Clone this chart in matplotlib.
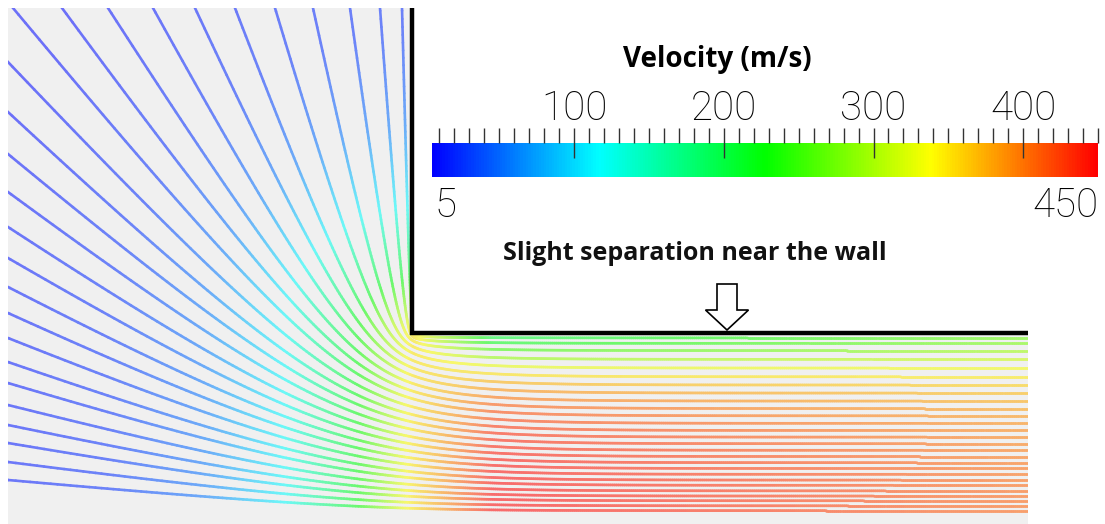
import numpy as np
import matplotlib.pyplot as plt
from matplotlib.collections import LineCollection
from matplotlib.colors import LinearSegmentedColormap, Normalize, to_rgb
from matplotlib.patches import Polygon, FancyArrow
from matplotlib.cm import ScalarMappable

# ---- geometry of the picture (pixels) ----
W, H = 1105, 524
corner_px = 414        # fluid side of the vertical wall
wall_py = 335          # fluid side of the channel wall
axis_py = 522          # symmetry line at the channel bottom
outlet_px = 1028       # end of the channel
domain_top_py = 8
domain_left_px = 8
h = axis_py - wall_py  # channel half height
bg = '#f0f0f0'

# ---- streamline seeds ----
top_entry_x = [13, 62, 108, 153, 195, 235, 275, 313, 350, 380, 402]
left_entry_y = [62, 112, 154, 192, 227, 258, 287, 313, 338, 362, 383,
                405, 425, 443, 462, 480]

# speed in the inlet region vs distance (px) to the channel mouth
res_dist = [0, 15, 60, 130, 210, 300, 450, 700]
res_speed = [350, 320, 215, 115, 55, 25, 10, 5]

# speed across the channel (0 = axis, 1 = wall), near mouth and at outlet
ch_frac = [0.0, 0.15, 0.3, 0.45, 0.6, 0.72, 0.82, 0.9, 0.97]
ch_speed_near = [450, 450, 445, 435, 415, 380, 330, 265, 205]
ch_speed_far = [410, 410, 405, 398, 385, 365, 335, 300, 270]

vmin, vmax = 5, 450
major_ticks = [100, 200, 300, 400]

cmap = LinearSegmentedColormap.from_list(
    'rainbow_bar', ['#0000ff', '#00ffff', '#00ff00', '#ffff00', '#ff0000'])
norm = Normalize(vmin, vmax)
line_alpha = 0.55


def to_xy(px, py):
    return px - corner_px, axis_py - py


# conformal map of the upper half plane onto the inlet + channel
def z_of(zeta):
    w = np.sqrt(zeta - 1)
    atan = -0.5j * np.log((1 + 1j * w) / (1 - 1j * w))
    return 1j * h + 1j * h / np.pi * (2 * w - 2 * atan)


def zeta_of(z0):
    w = np.pi * z0 / (2j * h)
    zeta = w * w + 1
    for _ in range(200):
        df = 1j * h / np.pi * np.sqrt(zeta - 1) / zeta
        zeta = zeta - (z_of(zeta) - z0) / df
        if zeta.imag <= 0:
            zeta = complex(zeta.real, 1e-9)
    return zeta


seeds = [to_xy(x, domain_top_py) for x in top_entry_x] + \
        [to_xy(domain_left_px, y) for y in left_entry_y]

fig = plt.figure(figsize=(W / 100, H / 100), dpi=100)
ax = fig.add_axes([0, 0, 1, 1])
ax.set_xlim(-corner_px, W - corner_px)
ax.set_ylim(axis_py - H, axis_py)
ax.axis('off')

x0, y0 = to_xy(domain_left_px, domain_top_py)
xo, _ = to_xy(outlet_px, 0)
domain = Polygon([(x0, axis_py - H), (xo, axis_py - H), (xo, h), (0, h),
                  (0, y0), (x0, y0)], closed=True, fc=bg, ec='none')
ax.add_patch(domain)

bg_rgb = np.array(to_rgb(bg))
segs, cols = [], []
for sx, sy in seeds:
    zeta0 = zeta_of(complex(sx, sy))
    theta, r0 = np.angle(zeta0), abs(zeta0)
    r = np.geomspace(r0 * 1.6, 1e-6, 500)
    z = z_of(r * np.exp(1j * theta))
    X, Y = z.real, z.imag
    d = np.hypot(np.minimum(X, 0), np.maximum(Y - h, 0))
    v_res = np.interp(d, res_dist, res_speed)
    frac = Y[-1] / h
    vn = np.interp(frac, ch_frac, ch_speed_near)
    vf = np.interp(frac, ch_frac, ch_speed_far)
    v_ch = vn + (vf - vn) * np.clip((X - 100) / 500, 0, 1)
    s = np.clip(X / 80, 0, 1)
    v = np.where(X < 0, v_res, (1 - s) * res_speed[0] + s * v_ch)
    pts = np.column_stack([X, Y])
    segs.extend(np.stack([pts[:-1], pts[1:]], axis=1))
    rgb = cmap(norm(0.5 * (v[:-1] + v[1:])))[:, :3]
    cols.extend(line_alpha * rgb + (1 - line_alpha) * bg_rgb)

lc = LineCollection(segs, colors=cols, lw=1.9, capstyle='round')
lc.set_clip_path(domain)
ax.add_collection(lc)

# walls
ax.plot([-2, -2, xo], [y0, h + 2, h + 2], color='black', lw=3.2,
        solid_joinstyle='miter', solid_capstyle='butt')

# annotation
ax.text(695 - corner_px, axis_py - 254, 'Slight separation near the wall',
        ha='center', va='center', fontsize=18, fontweight='bold',
        family=['Open Sans', 'DejaVu Sans'], color='#111111')
ax.add_patch(FancyArrow(727 - corner_px, axis_py - 284, 0, -46, width=20,
                        head_width=43, head_length=20,
                        length_includes_head=True, fc='white', ec='black',
                        lw=1.2))

# colour bar
cax = fig.add_axes([432 / W, 1 - 177 / H, (1098 - 432) / W, 34 / H])
cb = fig.colorbar(ScalarMappable(norm=norm, cmap=cmap), cax=cax,
                  orientation='horizontal')
cb.outline.set_visible(False)
cb.set_ticks(major_ticks)
cb.set_ticks(np.arange(10, 451, 10), minor=True)
cax.xaxis.set_ticks_position('top')
cax.xaxis.set_label_position('top')
cax.tick_params(which='major', direction='inout', length=21, width=1,
                color='#333333', pad=0, labelsize=29)
cax.tick_params(which='minor', direction='out', length=10.5, width=1,
                color='#333333')
for lab in cax.get_xticklabels():
    lab.set_family(['Roboto', 'DejaVu Sans'])
    lab.set_fontweight('light')

fig.text(717 / W, 1 - 60 / H, 'Velocity (m/s)', ha='center', va='center',
         fontsize=20, fontweight='bold', family=['Open Sans', 'DejaVu Sans'])
fig.text(434 / W, 1 - 206 / H, '5', ha='left', va='center', fontsize=29,
         family=['Roboto', 'DejaVu Sans'], fontweight='light')
fig.text(1099 / W, 1 - 206 / H, '450', ha='right', va='center', fontsize=29,
         family=['Roboto', 'DejaVu Sans'], fontweight='light')

fig.savefig('out.png', dpi=100, facecolor='white')
